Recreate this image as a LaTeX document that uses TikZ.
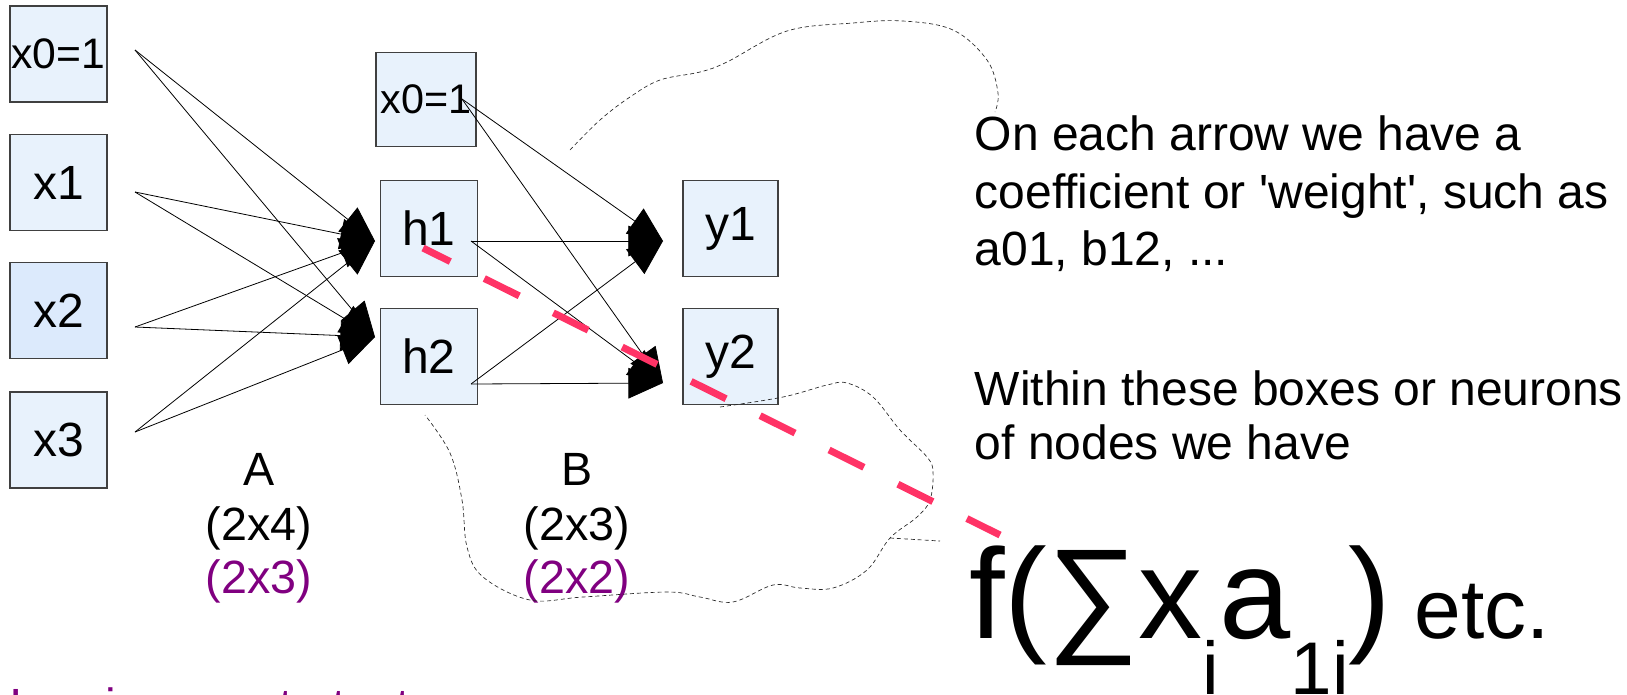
\documentclass[tikz,border=0pt]{standalone}
\usepackage{fontspec}
\setmainfont{Liberation Sans}
\usetikzlibrary{arrows.meta}
\definecolor{boxfill}{RGB}{232,242,252}
\definecolor{boxfilldark}{RGB}{220,234,252}
\definecolor{hotpink}{RGB}{255,51,102}
\definecolor{purp}{RGB}{128,0,128}
\begin{document}
\begin{tikzpicture}[x=0.75pt,y=-0.75pt,
  unitbox/.style={draw=black!75, line width=0.9pt, fill=boxfill, minimum width=72.75pt, minimum height=72pt, inner sep=0pt, font=\fontsize{36}{40}\selectfont},
  wire/.style={line width=0.6pt, -{Triangle[length=26pt,width=23pt]}},
  lbl/.style={anchor=base, font=\fontsize{35}{40}\selectfont},
  txt/.style={anchor=base west, font=\fontsize{36}{40}\selectfont},
  cloud/.style={line width=0.5pt, black!85, dash pattern=on 3pt off 2.2pt},
  hotdash/.style={hotpink, line width=5.25pt, dash pattern=on 29.25pt off 28.5pt, dash phase=6.4pt}
]
\useasboundingbox (0,0) rectangle (1627,694);
\clip (0,0) rectangle (1627,694);

% input layer
\node[unitbox, font=\fontsize{32}{36}\selectfont] (x0) at (58.5,54) {x0=1};
\node[unitbox] (x1) at (58.5,182.5) {x1};
\node[unitbox, fill=boxfilldark] (x2) at (58.5,310.5) {x2};
\node[unitbox] (x3) at (58.5,440) {x3};

% hidden layer
\node[unitbox, minimum width=75pt, minimum height=71pt, font=\fontsize{31}{36}\selectfont] (hb) at (426,99.5) {x0=1};
\node[unitbox] (h1) at (429,228.5) {h1};
\node[unitbox] (h2) at (429,356.5) {h2};

% output layer
\node[unitbox, minimum width=71.25pt] (y1) at (730.5,228.5) {y1};
\node[unitbox, minimum width=71.25pt] (y2) at (730.5,356.5) {y2};

% connector end points
\coordinate (i0) at (135,50);
\coordinate (i1) at (135,192);
\coordinate (i2) at (135,327);
\coordinate (i3) at (135,432);
\coordinate (t1) at (375,241);
\coordinate (t2) at (375,337);
\coordinate (s0) at (462,99);
\coordinate (s1) at (471,241);
\coordinate (s2) at (471,384);
\coordinate (u1) at (663,241);
\coordinate (u2) at (663,383);

\foreach \a in {i0,i1,i2,i3}{
  \draw[wire] (\a) -- (t1);
  \draw[wire] (\a) -- (t2);
}
\foreach \a in {s0,s1,s2}{
  \draw[wire] (\a) -- (u1);
  \draw[wire] (\a) -- (u2);
}

% matrix labels
\node[lbl] (la) at (259,485) {A};
\node[lbl] (la2) at (259,540) {(2x4)};
\node[lbl, purp] (la3) at (259,593) {(2x3)};
\node[lbl] (lb) at (577,485) {B};
\node[lbl] (lb2) at (577,540) {(2x3)};
\node[lbl, purp] (lb3) at (577,593) {(2x2)};

% dashed outlines
\draw[cloud] plot[smooth, tension=0.6] coordinates {(570,150) (600,120) (630,97) (660,80) (700,72) (727,62) (787,31) (853,23) (903,21) (953,30) (987,60) (998,93) (995,112)};
\draw[cloud] plot[smooth, tension=0.6] coordinates {(720,407) (783,397) (827,385) (847,383) (873,397) (900,430) (927,457) (933,472) (930,500) (917,517) (890,538) (867,570) (833,588) (800,588) (773,585) (733,602) (700,597) (667,592) (583,597) (530,600) (483,577) (467,547) (462,500) (450,453) (425,415)};
\coordinate (sp0) at (890,538);
\coordinate (sp1) at (940,541);
\draw[cloud] (sp0) -- (sp1);

% right-hand text
\node[txt] (r1) at (970,150) {On each arrow we have a};
\node[txt] (r2) at (970,208) {coefficient or \textquotesingle weight\textquotesingle, such as};
\node[txt] (r3) at (970,265) {a01, b12, ...};
\node[txt] (r4) at (970,405) {Within these boxes or neurons};
\node[txt] (r5) at (970,459) {of nodes we have};

% formula
\node[anchor=base west, inner sep=0pt] (fx) at (969,638) {\fontsize{96}{100}\selectfont f(∑x\raisebox{-42pt}{\fontsize{56}{60}\selectfont i}a\raisebox{-42pt}{\fontsize{56}{60}\selectfont 1i})\fontsize{63}{66}\selectfont{} etc.};

% bottom purple text (cut off by the page edge)
\node[txt, purp, inner sep=0pt] (bt) at (9.5,722) {In prior runs to test};

% red dashed pointer
\coordinate (r0) at (423,248);
\coordinate (rend) at (1000,535);
\draw[hotdash] (r0) -- (rend);
\end{tikzpicture}
\end{document}
